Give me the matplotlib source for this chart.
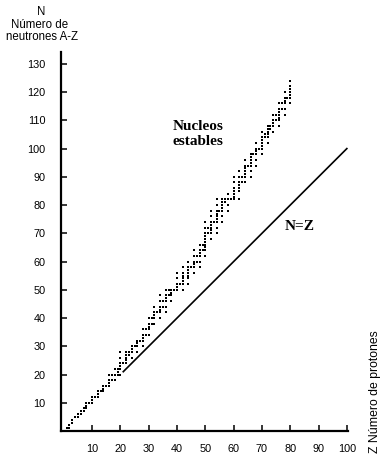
import matplotlib
matplotlib.use("Agg")
import matplotlib.pyplot as plt

# Stable nuclei: proton number Z -> list of neutron numbers N
stable = {
    1: [0, 1], 2: [1, 2], 3: [3, 4], 4: [5], 5: [5, 6], 6: [6, 7], 7: [7, 8],
    8: [8, 9, 10], 9: [10], 10: [10, 11, 12], 11: [12], 12: [12, 13, 14],
    13: [14], 14: [14, 15, 16], 15: [16], 16: [16, 17, 18, 20], 17: [18, 20],
    18: [18, 20, 22], 19: [20, 21, 22], 20: [20, 22, 23, 24, 26, 28], 21: [24],
    22: [24, 25, 26, 27, 28], 23: [27, 28], 24: [26, 28, 29, 30], 25: [30],
    26: [28, 30, 31, 32], 27: [32], 28: [30, 32, 33, 34, 36], 29: [34, 36],
    30: [34, 36, 37, 38, 40], 31: [38, 40], 32: [38, 40, 41, 42, 44], 33: [42],
    34: [40, 42, 43, 44, 46, 48], 35: [44, 46], 36: [42, 44, 46, 47, 48, 50],
    37: [48, 50], 38: [46, 48, 49, 50], 39: [50], 40: [50, 51, 52, 54, 56],
    41: [52], 42: [50, 52, 53, 54, 55, 56, 58], 44: [52, 54, 55, 56, 57, 58, 60],
    45: [58], 46: [56, 58, 59, 60, 62, 64], 47: [60, 62],
    48: [58, 60, 62, 63, 64, 66], 49: [64, 66],
    50: [62, 64, 65, 66, 67, 68, 69, 70, 72, 74], 51: [70, 72],
    52: [68, 70, 71, 72, 73, 74, 76, 78], 53: [74],
    54: [70, 72, 74, 75, 76, 77, 78, 80, 82], 55: [78],
    56: [74, 76, 78, 79, 80, 81, 82], 57: [81, 82], 58: [78, 80, 82, 84],
    59: [82], 60: [82, 83, 84, 85, 86, 88, 90], 62: [82, 85, 86, 87, 88, 90, 92],
    63: [88, 90], 64: [88, 90, 91, 92, 93, 94, 96], 65: [94],
    66: [90, 92, 94, 95, 96, 97, 98], 67: [98], 68: [94, 96, 98, 99, 100, 102],
    69: [100], 70: [98, 100, 101, 102, 103, 104, 106], 71: [104, 105],
    72: [102, 104, 105, 106, 107, 108], 73: [107, 108],
    74: [106, 108, 109, 110, 112], 75: [110, 112],
    76: [108, 110, 111, 112, 113, 114, 116], 77: [114, 116],
    78: [112, 114, 116, 117, 118, 120], 79: [118],
    80: [116, 118, 119, 120, 121, 122, 124],
}
z_vals = [z for z, ns in stable.items() for n in ns]
n_vals = [n for z, ns in stable.items() for n in ns]

line_z = [21, 100]
line_n = [21, 100]

xticks = [10, 20, 30, 40, 50, 60, 70, 80, 90, 100]
yticks = [10, 20, 30, 40, 50, 60, 70, 80, 90, 100, 110, 120, 130]

sans = ["Liberation Sans", "DejaVu Sans"]
serif = ["Liberation Serif", "DejaVu Serif"]

fig = plt.figure(figsize=(3.86, 4.59), dpi=100)
W, H = 386, 459
ax = fig.add_axes([61 / W, (H - 431) / H, 286.7 / W, 379 / H])
ax.set_xlim(-1, 100.3)
ax.set_ylim(0, 134.2)

ax.scatter(z_vals, n_vals, s=2.4, marker="s", color="black", linewidths=0)
ax.plot(line_z, line_n, color="black", lw=1.2)

for s in ["top", "right"]:
    ax.spines[s].set_visible(False)
for s in ["left", "bottom"]:
    ax.spines[s].set_linewidth(1.6)

ax.set_xticks(xticks)
ax.set_yticks(yticks)
ax.tick_params(direction="in", length=4, width=1.1, labelsize=7.8)
ax.tick_params(axis="y", pad=11)
ax.tick_params(axis="x", pad=9)
for lab in ax.get_xticklabels() + ax.get_yticklabels():
    lab.set_family(sans)

fig.text(41 / W, 1 - 12 / H, "N", ha="center", va="center", fontsize=8.3, family=sans)
fig.text(39.5 / W, 1 - 25 / H, "Número de", ha="center", va="center", fontsize=8.3, family=sans)
fig.text(41.5 / W, 1 - 37.5 / H, "neutrones A-Z", ha="center", va="center", fontsize=8.3, family=sans)
fig.text(375 / W, 1 - 392 / H, "Z Número de protones", ha="center", va="center",
         rotation=90, fontsize=8.8, family=sans)

fig.text(198 / W, 1 - 134 / H, "Nucleos\nestables", ha="center", va="center",
         fontsize=11, fontweight="bold", family=serif, linespacing=1.15)
fig.text(300 / W, 1 - 227 / H, "N=Z", ha="center", va="center",
         fontsize=11, fontweight="bold", family=serif)

fig.savefig("out.png", dpi=100)
